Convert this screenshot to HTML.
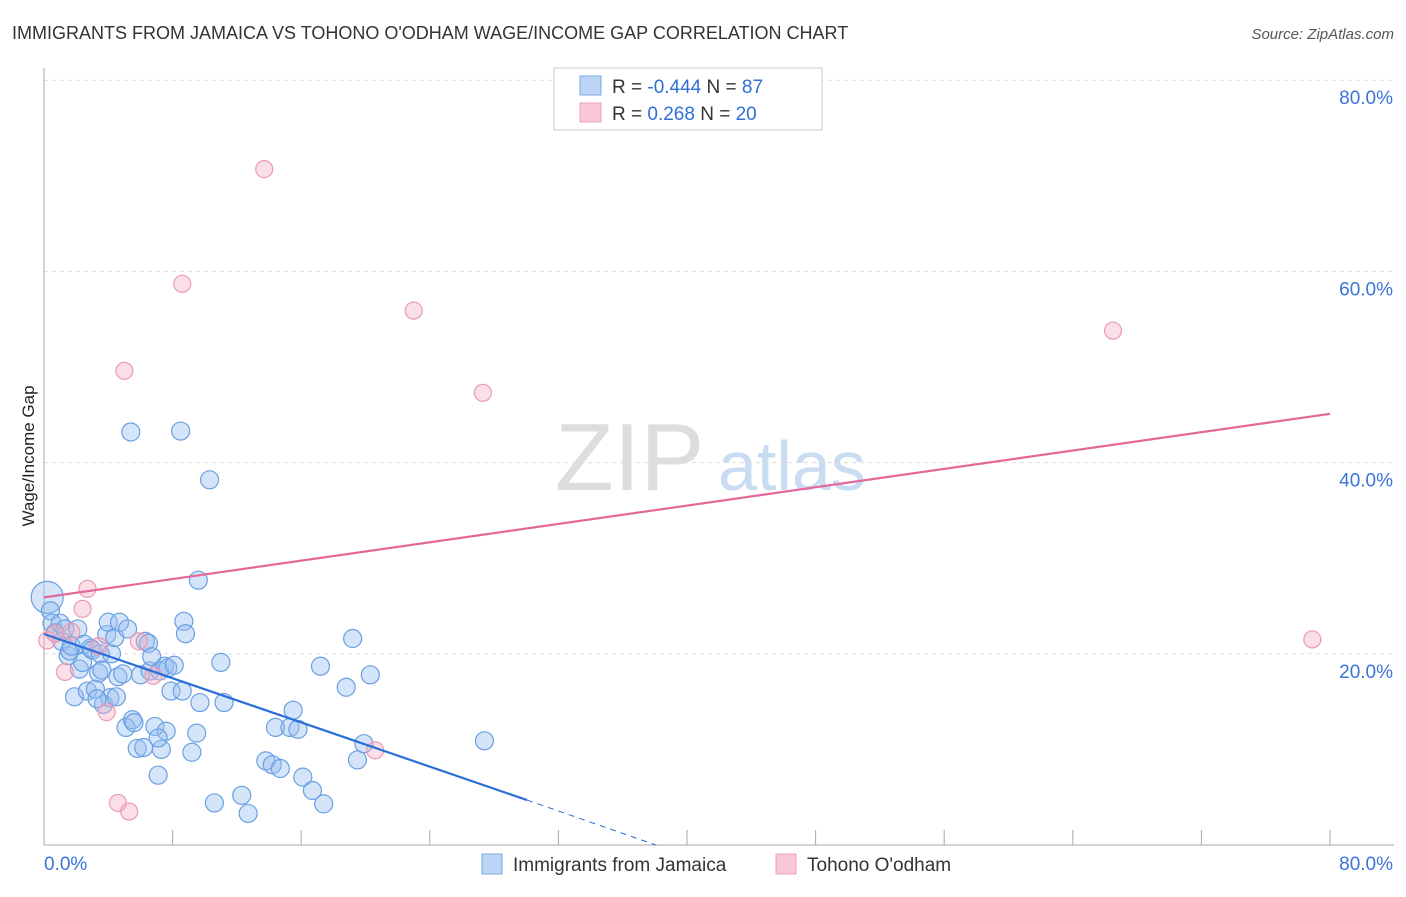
<!DOCTYPE html>
<html><head><meta charset="utf-8"><style>
body{margin:0;background:#fff;font-family:"Liberation Sans",sans-serif}
svg text{font-family:"Liberation Sans",sans-serif}
</style></head><body>
<svg id="c" width="1406" height="892" xmlns="http://www.w3.org/2000/svg">
<text x="12" y="39" font-size="18" fill="#333">IMMIGRANTS FROM JAMAICA VS TOHONO O'ODHAM WAGE/INCOME GAP CORRELATION CHART</text>
<text x="1394" y="39" font-size="15" fill="#555" font-style="italic" text-anchor="end">Source: ZipAtlas.com</text>
<text transform="translate(34,456) rotate(-90)" font-size="17" fill="#222" text-anchor="middle">Wage/Income Gap</text>
<text x="555" y="490" font-size="96" fill="#ddd" font-family="Liberation Serif">ZIP</text>
<text x="718" y="490" font-size="70" fill="#c9dcf2">atlas</text>
<g id="grid"></g><g id="pts"></g><g id="lines"></g>
<g>
<rect x="554" y="68" width="268" height="62" fill="#fff" stroke="#ccc"/>
<rect x="580" y="76" width="21" height="19" fill="#bcd4f5" stroke="#7aa7e3"/>
<rect x="580" y="103" width="21" height="19" fill="#f9c8d6" stroke="#eaa0b6"/>
<text x="612" y="93" font-size="19" fill="#333">R = <tspan fill="#2f6fd6">-0.444</tspan>   N = <tspan fill="#2f6fd6">87</tspan></text>
<text x="612" y="120" font-size="19" fill="#333">R =   <tspan fill="#2f6fd6">0.268</tspan>   N = <tspan fill="#2f6fd6">20</tspan></text>
</g>
<g>
<rect x="482" y="854" width="20" height="20" fill="#bcd4f5" stroke="#7aa7e3"/>
<text x="513" y="871" font-size="19" fill="#333">Immigrants from Jamaica</text>
<rect x="776" y="854" width="20" height="20" fill="#f9c8d6" stroke="#eaa0b6"/>
<text x="807" y="871" font-size="19" fill="#333">Tohono O'odham</text>
</g>
</svg>
<script>
const blueX=[0.2,0.4,0.5,0.7,1,1.1,1.3,1.5,1.6,1.7,1.9,2.1,2.2,2.4,2.5,2.7,2.9,3,3.2,3.4,3.5,3.6,3.7,3.9,4,4.1,4.2,4.4,4.5,4.6,4.7,4.9,5.1,5.2,5.4,5.5,5.6,5.8,6,6.2,6.3,6.5,6.6,6.7,6.9,7.1,7.2,7.3,7.5,7.6,7.7,7.9,8.1,8.5,8.6,8.7,8.8,9.2,9.5,9.6,9.7,10.3,10.6,11,11.2,12.3,12.7,13.8,14.2,14.4,14.7,15.3,15.5,15.8,16.1,16.7,17.2,17.4,18.8,19.2,19.5,19.9,20.3,27.4,3.3,7.1];
const blueY=[25.9,24.5,23.2,22.2,23.2,21.3,22.6,19.8,20.3,20.8,15.5,22.6,18.4,19.1,21.0,16.1,20.6,20.4,16.3,18.0,20.0,18.3,14.7,22.0,23.3,15.4,20.0,21.7,15.5,17.6,23.3,17.9,12.3,22.6,43.2,13.1,12.8,10.1,17.8,10.2,21.3,21.1,18.2,19.7,12.4,7.3,18.2,10.0,18.7,11.9,18.5,16.1,18.8,43.3,16.1,23.4,22.1,9.7,11.7,27.7,14.9,38.2,4.4,19.1,14.9,5.2,3.3,8.8,8.4,12.3,8.0,12.3,14.1,12.1,7.1,5.7,18.7,4.3,16.5,21.6,8.9,10.6,17.8,10.9,15.3,11.2];
const pinkX=[0.2,0.7,1.3,1.7,2.4,2.7,3.4,3.9,4.6,5.0,5.3,5.9,6.8,8.6,13.7,20.6,23.0,27.3,66.5,78.9];
const pinkY=[21.4,22.1,18.1,22.3,24.7,26.8,20.8,13.9,4.4,49.6,3.5,21.3,17.7,58.7,70.7,9.9,55.9,47.3,53.8,21.5];
const blueLineX=[0,30.05,38.07];const blueLineY=[22.07,4.7,0];
const pinkLineX=[0,80];const pinkLineY=[25.9,45.1];
const yTicks=[20,40,60,80];
const xTickLabels=["0.0%","80.0%"];
const NS="http://www.w3.org/2000/svg";
const sx=v=>44+v*16.075, sy=v=>845-v*9.56;
function mk(t,a,p){const e=document.createElementNS(NS,t);for(const k in a)e.setAttribute(k,a[k]);p.appendChild(e);return e;}
const g=document.getElementById('grid');
yTicks.forEach(v=>{
 const l=mk('line',{x1:44,x2:1394,y1:sy(v),y2:sy(v),stroke:'#ddd','stroke-dasharray':'4,4'},g);
 
 
 const t=mk('text',{x:1393,y:sy(v)+24,'font-size':19,fill:'#3b73d9','text-anchor':'end'},g);t.textContent=v.toFixed(1)+'%';
 
 
});
const ax=mk('line',{x1:44,x2:44,y1:68,y2:845,stroke:'#aaa'},g);


const bx=mk('line',{x1:44,x2:1394,y1:845,y2:845,stroke:'#aaa'},g);


for(let v=8;v<=80;v+=8){const t=mk('line',{x1:sx(v),x2:sx(v),y1:830,y2:845,stroke:'#aaa'},g);
 
 }
[[0,'start'],[80,'end']].forEach((d,i)=>{const t=mk('text',{x:i?1393:44,y:870,'font-size':19,fill:'#3b73d9','text-anchor':d[1]},g);t.textContent=xTickLabels[i];
 
 });
const p=document.getElementById('pts');
blueX.forEach((x,i)=>{const c=mk('circle',{cx:sx(x),cy:sy(blueY[i]),r:i==0?16:9,fill:'rgba(150,190,240,0.4)',stroke:'#6a9fe2','stroke-width':1.2},p);
 
 });
pinkX.forEach((x,i)=>{const c=mk('circle',{cx:sx(x),cy:sy(pinkY[i]),r:8.5,fill:'rgba(245,175,195,0.4)',stroke:'#eb9ab2','stroke-width':1.2},p);
 
 });
const L=document.getElementById('lines');
const b1=mk('line',{x1:sx(blueLineX[0]),y1:sy(blueLineY[0]),x2:sx(blueLineX[1]),y2:sy(blueLineY[1]),stroke:'#2a6fd8','stroke-width':2.2},L);


const b2=mk('line',{x1:sx(blueLineX[1]),y1:sy(blueLineY[1]),x2:sx(blueLineX[2]),y2:sy(blueLineY[2]),stroke:'#2a6fd8','stroke-width':1,'stroke-dasharray':'6,5'},L);


const p1=mk('line',{x1:sx(pinkLineX[0]),y1:sy(pinkLineY[0]),x2:sx(pinkLineX[1]),y2:sy(pinkLineY[1]),stroke:'#e4689a','stroke-width':2.2},L);


</script>
</body></html>
